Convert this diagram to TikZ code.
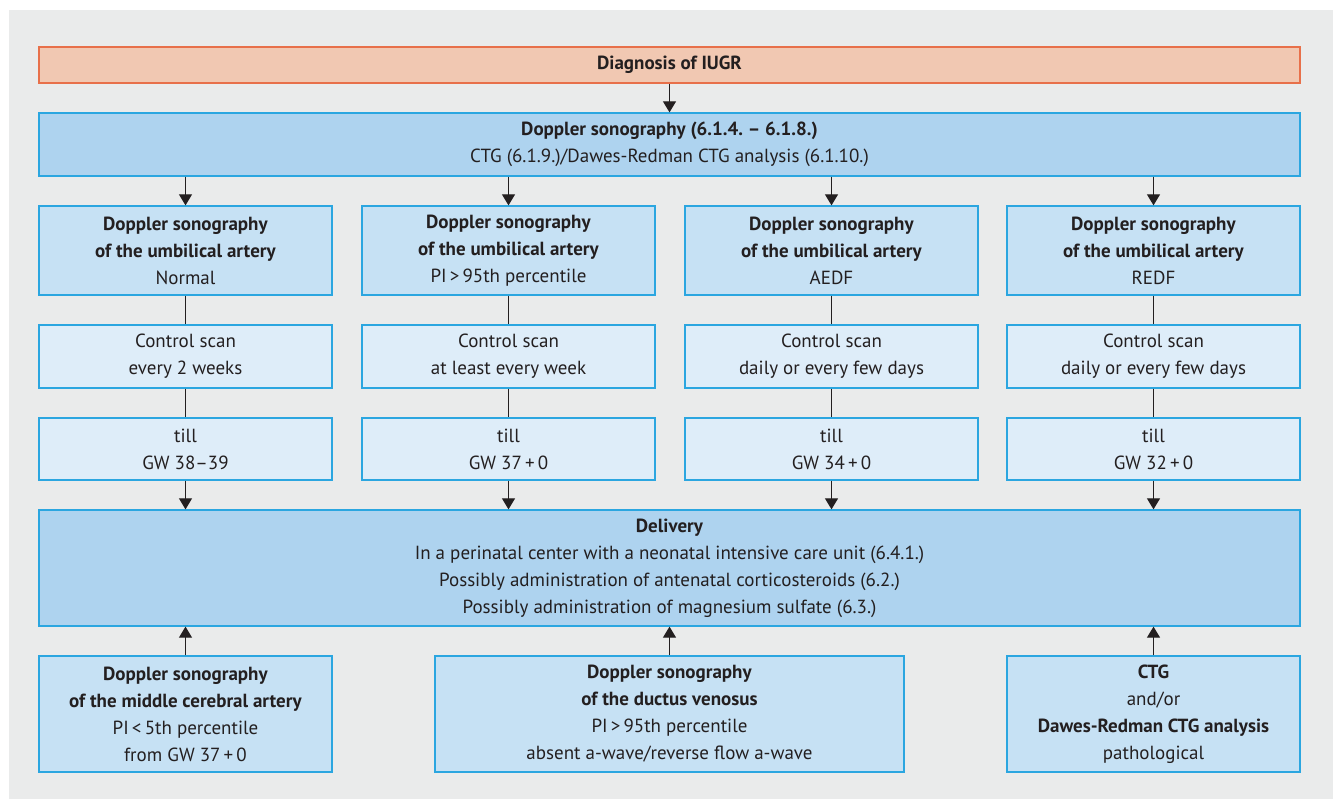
\documentclass[tikz,border=0pt]{standalone}
\usepackage{fontspec}
\setmainfont{PT Sans}
\usetikzlibrary{arrows.meta}
\definecolor{bggray}{HTML}{EAEBEB}
\definecolor{orfill}{HTML}{F1C8B2}
\definecolor{ordraw}{HTML}{E8704A}
\definecolor{bluedraw}{HTML}{2BA6E0}
\definecolor{bluedark}{HTML}{AED3EF}
\definecolor{bluemid}{HTML}{C6E1F4}
\definecolor{bluelight}{HTML}{DEEDF9}
\definecolor{txt}{HTML}{231F20}
\frenchspacing

\begin{document}
\begin{tikzpicture}
          [x=1pt,y=-1pt,
           every node/.style={draw,shape=rectangle,inner sep=0pt,align=center,text=txt,
             font=\fontsize{19}{27}\selectfont,line width=1.3pt},
           wide/.style={draw=bluedraw,fill=bluedark,minimum width=1261pt},
           colbox/.style={draw=bluedraw,fill=bluemid,minimum width=293pt,minimum height=89pt},
           stepbox/.style={draw=bluedraw,fill=bluelight,minimum width=293pt},
           link/.style={line width=1.1pt,draw=txt},
           arrow/.style={link,-{Triangle[width=13pt,length=11pt]}}]

          \useasboundingbox (0,0) rectangle (1333,799);
          \fill[bggray] (9,10) rectangle (1333,799);

          \node[draw=ordraw,fill=orfill,minimum width=1261pt,minimum height=36pt] (diag) at (669.5,65) {\textbf{Diagnosis of IUGR}};
          \node[wide,minimum height=63pt] (dop) at (669.5,144.5) {\textbf{Doppler sonography (6.1.4. -- 6.1.8.)}\\CTG (6.1.9.)/Dawes-Redman CTG analysis (6.1.10.)};

          \node[colbox] (u1) at (185.5,250.5) {\textbf{Doppler sonography}\\\textbf{of the umbilical artery}\\Normal};
          \node[colbox] (u2) at (508.5,250.5) {\textbf{Doppler sonography}\\\textbf{of the umbilical artery}\\PI\,>\,95th percentile};
          \node[colbox] (u3) at (831.5,250.5) {\textbf{Doppler sonography}\\\textbf{of the umbilical artery}\\AEDF};
          \node[colbox] (u4) at (1153.5,250.5) {\textbf{Doppler sonography}\\\textbf{of the umbilical artery}\\REDF};

          \node[stepbox,minimum height=63pt] (c1) at (185.5,356.5) {Control scan\\every 2 weeks};
          \node[stepbox,minimum height=63pt] (c2) at (508.5,356.5) {Control scan\\at least every week};
          \node[stepbox,minimum height=63pt] (c3) at (831.5,356.5) {Control scan\\daily or every few days};
          \node[stepbox,minimum height=63pt] (c4) at (1153.5,356.5) {Control scan\\daily or every few days};

          \node[stepbox,minimum height=62pt] (t1) at (185.5,449) {till\\GW 38--39};
          \node[stepbox,minimum height=62pt] (t2) at (508.5,449) {till\\GW 37\,+\,0};
          \node[stepbox,minimum height=62pt] (t3) at (831.5,449) {till\\GW 34\,+\,0};
          \node[stepbox,minimum height=62pt] (t4) at (1153.5,449) {till\\GW 32\,+\,0};

          \node[wide,minimum height=116pt] (del) at (669.5,568) {\textbf{Delivery}\\In a perinatal center with a neonatal intensive care unit (6.4.1.)\\Possibly administration of antenatal corticosteroids (6.2.)\\Possibly administration of magnesium sulfate (6.3.)};

          \node[colbox,minimum height=116pt] (b1) at (185.5,714) {\textbf{Doppler sonography}\\\textbf{of the middle cerebral artery}\\PI\,<\,5th percentile\\from GW 37\,+\,0};
          \node[colbox,minimum width=469pt,minimum height=116pt] (b2) at (669.5,714) {\textbf{Doppler sonography}\\\textbf{of the ductus venosus}\\PI\,>\,95th percentile\\absent a-wave/reverse flow a-wave};
          \node[colbox,minimum height=116pt] (b3) at (1153.5,714) {\textbf{CTG}\\and/or\\\textbf{Dawes-Redman CTG analysis}\\pathological};

          \draw[arrow] (diag) -- (dop);
          \foreach \i in {1,2,3,4} {
            \draw[arrow] (dop.south -| u\i.north) -- (u\i.north);
            \draw[link] (u\i) -- (c\i);
            \draw[link] (c\i) -- (t\i);
            \draw[arrow] (t\i.south) -- (del.north -| t\i.south);
          }
          \foreach \i in {1,2,3}
            \draw[arrow] (b\i.north) -- (del.south -| b\i.north);
        \end{tikzpicture}
\end{document}
